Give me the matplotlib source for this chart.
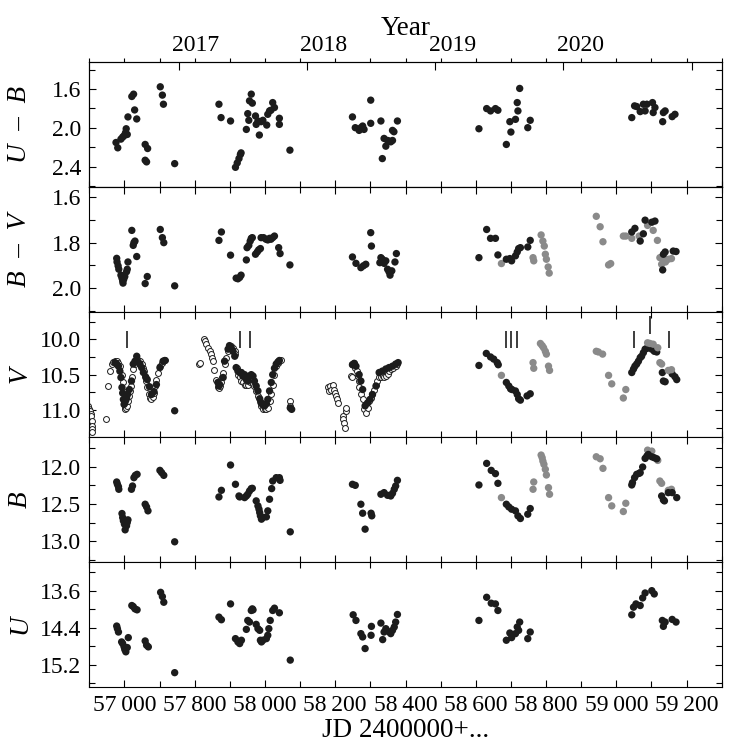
import matplotlib
matplotlib.use("Agg")
import matplotlib.pyplot as plt
from matplotlib.ticker import MultipleLocator, FormatStrFormatter, FixedLocator
from matplotlib.transforms import ScaledTranslation

plt.rcParams['font.family'] = ['Liberation Serif', 'DejaVu Serif']

# ---------------- data ----------------
# U-B
ub_jd = [57576, 57581, 57590, 57595, 57599, 57603, 57605, 57608, 57610, 57621, 57626, 57629, 57635,
         57659, 57666, 57659, 57663, 57702, 57708, 57711, 57743,
         57869, 57875, 57902, 57916, 57921, 57926, 57930, 57932, 57947, 57951, 57954, 57956, 57961,
         57964, 57973, 57975, 57980, 57984, 57989, 57994, 58005, 58008, 58013, 58017, 58022, 58027,
         58041, 58041, 58071,
         58249, 58257, 58268, 58273, 58278, 58282, 58301, 58301, 58330, 58334, 58339, 58344, 58349,
         58353, 58358, 58363, 58363, 58367, 58377,
         58609, 58631, 58642, 58656, 58663, 58687, 58697, 58700, 58713, 58718, 58720, 58725, 58748, 58755,
         59044, 59052, 59058, 59068, 59077, 59082, 59087, 59103, 59105, 59110, 59132, 59134, 59139, 59159, 59167]
ub_val = [2.151, 2.206, 2.116, 2.095, 2.081, 2.050, 2.009, 2.068, 1.887, 1.676, 1.652, 1.815, 1.908,
          2.171, 2.213, 2.334, 2.351, 1.576, 1.662, 1.756, 2.369,
          1.756, 1.894, 1.929, 2.407, 2.362, 2.317, 2.275, 2.258, 2.016, 1.853, 1.922, 1.721, 1.652,
          1.745, 1.877, 1.964, 1.929, 2.074, 1.936, 1.922, 1.971, 1.860, 1.825, 1.818, 1.739, 1.790,
          1.901, 1.964, 2.230,
          1.887, 1.998, 2.026, 1.998, 1.981, 2.016, 1.714, 1.953, 1.929, 2.317, 2.109, 2.189, 2.130,
          2.137, 2.144, 2.130, 2.026, 2.040, 1.929,
          2.009, 1.801, 1.825, 1.801, 1.818, 2.171, 1.936, 2.043, 1.912, 1.739, 1.825, 1.593, 1.998, 1.922,
          1.894, 1.773, 1.780, 1.832, 1.756, 1.825, 1.756, 1.739, 1.842, 1.790, 1.936, 1.842, 1.825, 1.884, 1.860]

# B-V
bv_jd = [57578, 57579, 57582, 57584, 57590, 57593, 57595, 57596, 57598, 57601, 57606, 57608, 57610,
         57621, 57625, 57627, 57630, 57635, 57659, 57665, 57702, 57708, 57712, 57743,
         57869, 57876, 57902, 57918, 57923, 57928, 57932, 57947, 57949, 57954, 57958, 57961, 57964,
         57973, 57978, 57982, 57987, 57989, 57996, 58003, 58008, 58013, 58017, 58022, 58027, 58039,
         58043, 58071,
         58249, 58259, 58273, 58280, 58287, 58301, 58303, 58327, 58330, 58334, 58339, 58344, 58349,
         58353, 58356, 58361, 58370, 58374,
         58609, 58631, 58642, 58656, 58663, 58687, 58697, 58702, 58713, 58718, 58722, 58727, 58748, 58755,
         59044, 59053, 59068, 59077, 59082, 59101, 59110, 59132, 59134, 59139, 59162, 59170]
bv_val = [1.869, 1.885, 1.902, 1.917, 1.943, 1.956, 1.968, 1.978, 1.961, 1.949, 1.928, 1.917, 1.885,
          1.746, 1.812, 1.800, 1.793, 1.861, 1.980, 1.949, 1.742, 1.778, 1.800, 1.990,
          1.790, 1.753, 1.855, 1.956, 1.959, 1.953, 1.943, 1.876, 1.822, 1.812, 1.793, 1.781, 1.778,
          1.851, 1.841, 1.832, 1.826, 1.778, 1.778, 1.785, 1.788, 1.781, 1.785, 1.778, 1.771, 1.822,
          1.848, 1.898,
          1.863, 1.891, 1.910, 1.902, 1.895, 1.756, 1.815, 1.888, 1.866, 1.873, 1.891, 1.880, 1.917,
          1.928, 1.943, 1.924, 1.885, 1.848,
          1.866, 1.742, 1.781, 1.781, 1.854, 1.873, 1.870, 1.880, 1.858, 1.841, 1.826, 1.822, 1.819, 1.790,
          1.753, 1.737, 1.793, 1.761, 1.701, 1.710, 1.705, 1.920, 1.851, 1.841, 1.837, 1.839]
bv_gray_jd = [58673, 58763, 58765, 58786, 58791, 58795, 58798, 58801, 58806, 58809,
              58943, 58954, 58962, 58978, 58984, 59020, 59027, 59044, 59065, 59089, 59105, 59117,
              59124, 59129, 59134, 59140, 59148, 59157]
bv_gray_val = [1.892, 1.866, 1.880, 1.766, 1.793, 1.815, 1.851, 1.873, 1.907, 1.934,
               1.684, 1.730, 1.796, 1.898, 1.892, 1.771, 1.771, 1.781, 1.771, 1.724, 1.746, 1.790,
               1.866, 1.895, 1.876, 1.885, 1.873, 1.870]

# V : open circles (dense series)
v_open_jd = [57497, 57500, 57502, 57504, 57506, 57507, 57507, 57508, 57509, 57548,
             57554, 57559, 57564, 57568, 57573, 57578, 57583, 57587, 57592, 57595, 57597, 57599, 57601,
             57602, 57604, 57606, 57609, 57612, 57616, 57618, 57621, 57625, 57630, 57635, 57639, 57644,
             57649, 57652, 57655, 57658, 57661, 57665, 57669, 57672, 57676, 57680, 57684, 57688, 57691,
             57696, 57701, 57706, 57710, 57715,
             57812, 57814, 57826, 57829, 57833, 57838, 57843, 57847, 57850, 57852, 57854, 57862, 57865,
             57868, 57871, 57876, 57879, 57881, 57885, 57890, 57895, 57899, 57904, 57909, 57914, 57916,
             57920, 57923, 57928, 57933, 57937, 57942, 57947, 57951, 57956, 57961, 57966, 57970, 57975,
             57980, 57985, 57989, 57994, 57999, 58004, 58008, 58013, 58018, 58022, 58027, 58032, 58037,
             58041, 58046, 58070, 58072,
             58179, 58181, 58185, 58188, 58195, 58197, 58200, 58202, 58204, 58207, 58221, 58223, 58226,
             58228, 58231, 58232, 58245, 58248, 58249, 58254, 58257, 58261, 58264, 58267, 58268, 58273,
             58278, 58283, 58287, 58292, 58297, 58302, 58306, 58311, 58316, 58320, 58325, 58330, 58335,
             58339, 58344, 58349, 58354, 58358, 58363, 58372, 58377]
v_open_val = [10.94, 10.98, 11.01, 11.05, 11.09, 11.16, 11.23, 11.27, 11.31, 11.12,
              10.66, 10.45, 10.35, 10.32, 10.31, 10.31, 10.33, 10.38, 10.50, 10.61, 10.73, 10.87, 10.97,
              10.99, 10.97, 10.94, 10.87, 10.80, 10.73, 10.66, 10.54, 10.42, 10.35, 10.31, 10.30, 10.31,
              10.35, 10.40, 10.45, 10.52, 10.59, 10.68, 10.78, 10.83, 10.84, 10.82, 10.76, 10.66, 10.57,
              10.47, 10.38, 10.33, 10.31, 10.30,
              10.35, 10.33, 9.99, 10.02, 10.07, 10.12, 10.17, 10.21, 10.26, 10.31, 10.44, 10.57, 10.68,
              10.69, 10.66, 10.61, 10.54, 10.47, 10.35, 10.26, 10.17, 10.12, 10.09, 10.12, 10.17, 10.21,
              10.40, 10.50, 10.54, 10.59, 10.61, 10.64, 10.65, 10.64, 10.61, 10.59, 10.63, 10.66, 10.73,
              10.80, 10.87, 10.94, 10.98, 10.99, 10.99, 10.97, 10.87, 10.78, 10.64, 10.50, 10.38, 10.33,
              10.31, 10.30, 10.87, 10.94,
              10.68, 10.73, 10.66, 10.72, 10.64, 10.71, 10.76, 10.80, 10.85, 10.90, 11.08, 11.13, 11.18,
              11.25, 11.01, 10.97, 10.52, 10.54, 10.35, 10.33, 10.40, 10.45, 10.52, 10.59, 10.68, 10.78,
              10.85, 10.99, 11.04, 10.97, 10.87, 10.83, 10.78, 10.71, 10.64, 10.59, 10.54, 10.53, 10.52,
              10.54, 10.52, 10.49, 10.45, 10.42, 10.40, 10.38, 10.35]
# V : black filled
v_jd = [57573, 57578, 57583, 57587, 57590, 57593, 57595, 57597, 57599, 57601, 57604, 57606, 57609,
        57614, 57620, 57625, 57630, 57635, 57639, 57644, 57649, 57654, 57661, 57665, 57671, 57677,
        57684, 57691, 57701, 57710, 57715, 57743,
        57866, 57869, 57871, 57881, 57885, 57895, 57899, 57904, 57909, 57914, 57918, 57923, 57928,
        57933, 57937, 57942, 57947, 57951, 57956, 57961, 57966, 57970, 57975, 57980, 57985, 57989,
        57994, 57999, 58004, 58008, 58013, 58018, 58022, 58027, 58032, 58037, 58041, 58072, 58076,
        58249, 58254, 58259, 58268, 58273, 58278, 58285, 58292, 58299, 58306, 58316, 58325, 58334,
        58344, 58353, 58363, 58372, 58379,
        58609, 58630, 58642, 58651, 58661, 58664, 58687, 58694, 58699, 58703, 58713, 58718, 58722,
        58727, 58746, 58755,
        59044, 59049, 59053, 59058, 59063, 59068, 59072, 59077, 59082, 59087, 59091, 59101, 59108,
        59115, 59131, 59134, 59139, 59159, 59167, 59172]
v_val = [10.33, 10.35, 10.38, 10.45, 10.54, 10.68, 10.76, 10.85, 10.92, 10.90, 10.86, 10.83, 10.78,
         10.71, 10.59, 10.35, 10.31, 10.24, 10.32, 10.35, 10.40, 10.47, 10.54, 10.57, 10.67, 10.78,
         10.74, 10.64, 10.40, 10.31, 10.30, 11.01,
         10.61, 10.66, 10.64, 10.54, 10.31, 10.14, 10.09, 10.12, 10.17, 10.24, 10.40, 10.45, 10.47,
         10.47, 10.52, 10.50, 10.57, 10.59, 10.52, 10.50, 10.52, 10.59, 10.66, 10.73, 10.84, 10.90,
         10.93, 10.94, 10.91, 10.85, 10.73, 10.61, 10.50, 10.41, 10.35, 10.32, 10.30, 10.97, 10.99,
         10.36, 10.34, 10.38, 10.50, 10.59, 10.71, 10.94, 10.90, 10.85, 10.78, 10.66, 10.47, 10.45,
         10.42, 10.40, 10.38, 10.35, 10.33,
         10.37, 10.20, 10.25, 10.28, 10.33, 10.36, 10.61, 10.66, 10.70, 10.71, 10.73, 10.78, 10.84,
         10.86, 10.80, 10.77,
         10.47, 10.42, 10.38, 10.35, 10.31, 10.26, 10.24, 10.19, 10.14, 10.13, 10.11, 10.14, 10.17,
         10.18, 10.47, 10.59, 10.60, 10.49, 10.53, 10.57]
v_gray_jd = [58673, 58763, 58765, 58784, 58789, 58793, 58798, 58801, 58807, 58810,
             58943, 58949, 58961, 58978, 58987, 59020, 59027, 59089, 59096, 59105, 59118, 59124,
             59129, 59148, 59157]
v_gray_val = [10.51, 10.33, 10.41, 10.06, 10.09, 10.12, 10.17, 10.21, 10.38, 10.44,
              10.17, 10.18, 10.21, 10.51, 10.63, 10.83, 10.71, 10.05, 10.06, 10.07, 10.12, 10.33,
              10.35, 10.44, 10.43]
# V : vertical marks
v_mark_jd = [57608, 57928, 57956, 58687, 58699, 58718, 59049, 59096, 59150]
v_mark_top = [9.89, 9.89, 9.89, 9.89, 9.89, 9.89, 9.88, 9.67, 9.89]
v_mark_bot = [10.12, 10.12, 10.12, 10.12, 10.12, 10.12, 10.12, 9.93, 10.12]

# B
b_jd = [57578, 57580, 57583, 57584, 57593, 57595, 57597, 57600, 57602, 57606, 57608, 57610, 57620,
        57623, 57627, 57631, 57636, 57659, 57663, 57667, 57701, 57706, 57712, 57743,
        57869, 57876, 57902, 57916, 57926, 57928, 57942, 57947, 57951, 57956, 57961, 57964, 57975,
        57980, 57983, 57985, 57987, 57990, 57994, 58004, 58008, 58013, 58019, 58022, 58032, 58041,
        58043, 58072,
        58249, 58257, 58273, 58278, 58285, 58302, 58304, 58330, 58339, 58349, 58358, 58363, 58368,
        58372, 58377,
        58609, 58631, 58644, 58656, 58663, 58687, 58694, 58702, 58713, 58720, 58727, 58748, 58755,
        59044, 59046, 59052, 59058, 59065, 59068, 59075, 59082, 59087, 59091, 59101, 59108, 59115,
        59129, 59134, 59137, 59148, 59159, 59172]
b_val = [12.205, 12.236, 12.268, 12.303, 12.629, 12.683, 12.727, 12.772, 12.848, 12.794, 12.750,
         12.714, 12.303, 12.259, 12.147, 12.116, 12.102, 12.504, 12.540, 12.593, 12.049, 12.080,
         12.116, 13.009,
         12.406, 12.317, 11.977, 12.236, 12.393, 12.406, 12.415, 12.393, 12.370, 12.326, 12.294,
         12.290, 12.459, 12.526, 12.571, 12.616, 12.660, 12.705, 12.683, 12.674, 12.593, 12.437,
         12.294, 12.192, 12.147, 12.147, 12.183, 12.875,
         12.236, 12.250, 12.504, 12.625, 12.839, 12.625, 12.660, 12.370, 12.348, 12.384, 12.393,
         12.357, 12.303, 12.259, 12.183,
         12.245, 11.955, 12.049, 12.093, 12.223, 12.504, 12.540, 12.571, 12.593, 12.660, 12.696,
         12.638, 12.562,
         12.245, 12.214, 12.147, 12.102, 12.089, 12.080, 12.004, 11.888, 11.857, 11.835, 11.866,
         11.879, 11.893, 12.393, 12.446, 12.459, 12.348, 12.348, 12.415]
b_gray_jd = [58673, 58763, 58765, 58786, 58789, 58791, 58794, 58798, 58801, 58807, 58810,
             58943, 58954, 58962, 58978, 58987, 59020, 59027, 59089, 59101, 59118, 59124, 59129,
             59148, 59157]
b_gray_val = [12.415, 12.303, 12.205, 11.843, 11.879, 11.924, 11.968, 12.035, 12.111, 12.281, 12.370,
              11.866, 11.893, 12.022, 12.415, 12.526, 12.602, 12.491, 11.777, 11.790, 11.915, 12.192,
              12.223, 12.317, 12.303]

# U
u_jd = [57578, 57580, 57583, 57592, 57595, 57599, 57601, 57604, 57608, 57611, 57621, 57625, 57630,
        57636, 57659, 57663, 57668, 57703, 57708, 57712, 57743,
        57869, 57876, 57902, 57916, 57923, 57928, 57933, 57947, 57951, 57956, 57961, 57964, 57966,
        57975, 57980, 57985, 57987, 57990, 57994, 58004, 58008, 58011, 58015, 58022, 58027, 58041, 58072,
        58251, 58259, 58273, 58278, 58285, 58302, 58303, 58330, 58335, 58339, 58344, 58354, 58358,
        58363, 58368, 58372, 58377,
        58609, 58631, 58644, 58656, 58663, 58687, 58697, 58702, 58713, 58718, 58722, 58725, 58748, 58755,
        59044, 59049, 59056, 59068, 59075, 59082, 59101, 59108, 59131, 59134, 59139, 59159, 59170]
u_val = [14.364, 14.421, 14.493, 14.707, 14.743, 14.814, 14.871, 14.921, 14.828, 14.614, 13.921,
         13.943, 13.993, 14.014, 14.686, 14.778, 14.814, 13.636, 13.728, 13.850, 15.371,
         14.171, 14.228, 13.886, 14.636, 14.707, 14.743, 14.671, 14.436, 14.243, 14.278, 14.028,
         13.993, 14.014, 14.328, 14.421, 14.457, 14.671, 14.707, 14.671, 14.636, 14.564, 14.421,
         14.243, 14.028, 13.978, 14.078, 15.100,
         14.121, 14.243, 14.528, 14.600, 14.850, 14.564, 14.371, 14.300, 14.657, 14.493, 14.421,
         14.493, 14.528, 14.457, 14.385, 14.278, 14.114,
         14.243, 13.743, 13.871, 13.886, 14.028, 14.671, 14.514, 14.614, 14.528, 14.385, 14.457,
         14.278, 14.636, 14.493,
         14.121, 13.957, 13.886, 13.921, 13.757, 13.650, 13.600, 13.671, 14.243, 14.371, 14.278,
         14.221, 14.278]

# axes texts
x_ticks = [57600, 57800, 58000, 58200, 58400, 58600, 58800, 59000, 59200]
x_minor = [57500, 57700, 57900, 58100, 58300, 58500, 58700, 58900, 59100, 59300]
x_ticklabels = ["57\u2009000", "57\u2009800", "58\u2009000", "58\u2009200", "58\u2009400",
                "58\u2009600", "58\u2009800", "59\u2009000", "59\u2009200"]
year_ticks_jd = [57754.5, 58119.5, 58484.5, 58849.5, 59215.5]
year_labels = ["2017", "2018", "2019", "2020", ""]
panel_labels = ["U\u2002\u2013\u2002B", "B\u2002\u2013\u2002V", "V", "B", "U"]

# ---------------- figure ----------------
BLACK = '#1c1c1c'
GRAY = '#8a8a8a'
FS_TICK = 17
FS_LAB = 19.5

fig = plt.figure(figsize=(7.29, 7.45), dpi=100)
gs = fig.add_gridspec(5, 1, left=0.1225, right=0.990, top=0.9168, bottom=0.0779, hspace=0)
axes = [fig.add_subplot(gs[i]) for i in range(5)]

dot = dict(s=28, c=BLACK, edgecolors='none', zorder=3)
gdot = dict(s=28, c=GRAY, edgecolors='none', zorder=3)

axes[0].scatter(ub_jd, ub_val, **dot)

axes[1].scatter(bv_gray_jd, bv_gray_val, **gdot)
axes[1].scatter(bv_jd, bv_val, **dot)

axes[2].scatter(v_open_jd, v_open_val, s=18, facecolors='white', edgecolors=BLACK,
                linewidths=0.7, zorder=2)
axes[2].scatter(v_jd, v_val, **dot)
axes[2].scatter(v_gray_jd, v_gray_val, **gdot)
axes[2].vlines(v_mark_jd, v_mark_top, v_mark_bot, colors=BLACK, linewidth=1.2, zorder=4)

axes[3].scatter(b_gray_jd, b_gray_val, **gdot)
axes[3].scatter(b_jd, b_val, **dot)

axes[4].scatter(u_jd, u_val, **dot)

ylims = [(2.61, 1.32), (2.105, 1.555), (11.38, 9.615), (13.28, 11.6), (15.68, 12.98)]
ymaj = [0.4, 0.2, 0.5, 0.5, 0.8]
ymin = [0.2, 0.1, 0.25, 0.25, 0.4]

for i, ax in enumerate(axes):
    ax.set_xlim(57500, 59300)
    ax.set_ylim(*ylims[i])
    ax.yaxis.set_major_locator(MultipleLocator(ymaj[i]))
    ax.yaxis.set_minor_locator(MultipleLocator(ymin[i]))
    ax.yaxis.set_major_formatter(FormatStrFormatter('%.1f'))
    ax.set_xticks(x_ticks)
    ax.xaxis.set_minor_locator(FixedLocator(x_minor))
    if i == 4:
        ax.set_xticklabels(x_ticklabels)
    else:
        ax.set_xticklabels([])
    ax.tick_params(axis='both', which='both', direction='in', top=(i != 0), right=True,
                   labelsize=FS_TICK, width=0.8)
    ax.tick_params(axis='both', which='major', length=5, pad=6)
    ax.tick_params(axis='both', which='minor', length=4)
    ax.set_ylabel(panel_labels[i], fontsize=FS_LAB, style='italic')
    ax.yaxis.set_label_coords(-0.09, 0.5)
    for sp in ax.spines.values():
        sp.set_linewidth(0.8)

axes[4].set_xlabel("JD 2400000+...", fontsize=FS_LAB, labelpad=1)

# top year axis
axt = axes[0].twiny()
axt.set_xlim(axes[0].get_xlim())
axt.set_xticks(year_ticks_jd)
axt.set_xticklabels(year_labels)
axt.xaxis.set_minor_locator(FixedLocator(x_ticks + x_minor))
axt.tick_params(axis='x', which='major', direction='in', length=6, width=0.8, labelsize=FS_TICK, pad=4)
axt.tick_params(axis='x', which='minor', direction='out', length=3, width=0.8)
axt.set_xlabel("Year", fontsize=FS_LAB, labelpad=0)
shift = ScaledTranslation(0.17, 0, fig.dpi_scale_trans)
for lab in axt.get_xticklabels():
    lab.set_transform(lab.get_transform() + shift)

fig.savefig("out.png", dpi=100)
